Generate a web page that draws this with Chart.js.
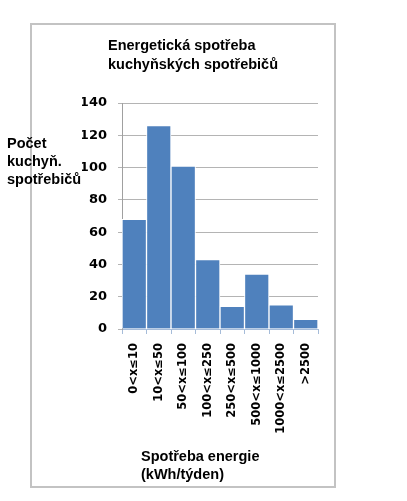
<!DOCTYPE html>
<html>
<head>
<meta charset="utf-8">
<script src="https://cdn.jsdelivr.net/npm/chart.js@4/dist/chart.umd.min.js"></script>
<style>
  body { margin: 0; background: #fff; }
  #wrap { position: relative; width: 407px; height: 501px; overflow: hidden; }
  #frame { position: absolute; left: 30px; top: 23px; width: 302px; height: 461px; border: 2px solid #c3c3c3; }
  canvas { position: absolute; left: 0; top: 0; }
  .lbl { position: absolute; font-family: "Liberation Sans", Arial, sans-serif; font-weight: bold; font-size: 14.5px; color: #000; white-space: nowrap; }
</style>
</head>
<body>
<div id="wrap">
  <div id="frame"></div>
  <canvas id="chart" width="407" height="501"></canvas>
  <div class="lbl" style="left:108px; top:36px; line-height:19px;">Energetická spotřeba<br>kuchyňských spotřebičů</div>
  <div class="lbl" style="left:7px; top:134px; line-height:18px;">Počet<br>kuchyň.<br>spotřebičů</div>
  <div class="lbl" style="left:141px; top:447px; line-height:18px;">Spotřeba energie<br>(kWh/týden)</div>
</div>
<script>
// kategorie spotřeby (kWh/týden)
const categories = ["0<x≤10", "10<x≤50", "50<x≤100", "100<x≤250", "250<x≤500", "500<x≤1000", "1000<x≤2500", ">2500"];
// počet spotřebičů v každé kategorii
const counts = [68, 126, 101, 43, 14, 34, 15, 6];
const yMin = 0;
const yMax = 140;
const yStep = 20;

new Chart(document.getElementById("chart"), {
  type: "bar",
  data: {
    labels: categories,
    datasets: [{
      data: counts,
      backgroundColor: "#4f81bd",
      borderColor: "#ffffff",
      borderWidth: 1,
      barPercentage: 1,
      categoryPercentage: 1,
    }],
  },
  options: {
    responsive: false,
    animation: false,
    layout: { padding: { left: 82, right: 89, top: 103, bottom: 52 } },
    plugins: {
      legend: { display: false },
      tooltip: { enabled: false },
    },
    scales: {
      x: {
        grid: { offset: true, drawOnChartArea: false, drawTicks: true, tickLength: 5, color: "#a6bcd9" },
        border: { color: "#a6bcd9" },
        ticks: {
          minRotation: 90,
          maxRotation: 90,
          padding: 9,
          color: "#000",
          font: { family: "DejaVu Sans", weight: "bold", size: 11.5 },
        },
        afterFit: (s) => { s.height = 120; },
      },
      y: {
        min: yMin,
        max: yMax,
        grid: { color: "#b4b4b4", tickLength: 4 },
        border: { color: "#a0a0a0" },
        ticks: {
          stepSize: yStep,
          padding: 11,
          color: "#000",
          font: { family: "DejaVu Sans", weight: "bold", size: 13 },
        },
        afterFit: (s) => { s.width = 40; },
      },
    },
  },
});
</script>
</body>
</html>
